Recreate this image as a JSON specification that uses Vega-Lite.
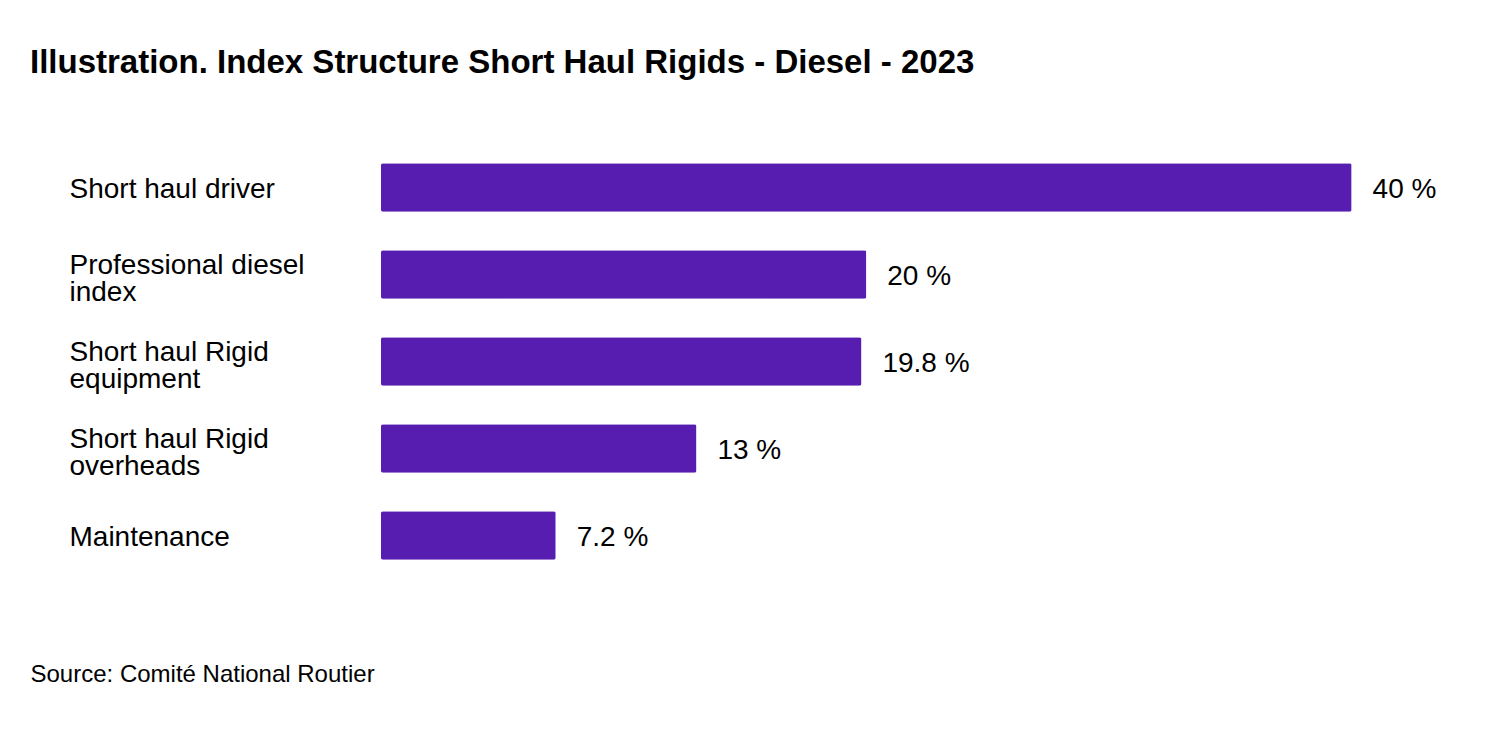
{
  "$schema": "https://vega.github.io/schema/vega-lite/v6.json",
  "background": "white",
  "autosize": "none",
  "padding": {"left": 381, "top": 144, "right": 134, "bottom": 176},
  "width": 990,
  "height": 435,
  "config": {
    "font": "Liberation Sans",
    "view": {"stroke": null}
  },
  "title": {
    "text": "Illustration. Index Structure Short Haul Rigids - Diesel - 2023",
    "anchor": "start",
    "frame": "group",
    "dx": -351,
    "offset": 64,
    "fontSize": 33,
    "fontWeight": "bold",
    "color": "#000000",
    "font": "Liberation Sans"
  },
  "data": {
    "values": [
      {"category": "Short haul driver", "value": 40, "label": "40 %"},
      {"category": "Professional diesel|index", "value": 20, "label": "20 %"},
      {"category": "Short haul Rigid|equipment", "value": 19.8, "label": "19.8 %"},
      {"category": "Short haul Rigid|overheads", "value": 13, "label": "13 %"},
      {"category": "Maintenance", "value": 7.2, "label": "7.2 %"}
    ]
  },
  "encoding": {
    "y": {
      "field": "category",
      "type": "nominal",
      "sort": null,
      "scale": {"paddingInner": 0.44, "paddingOuter": 0.22},
      "axis": {
        "title": null,
        "domain": false,
        "ticks": false,
        "labelAlign": "left",
        "labelPadding": 312,
        "labelFontSize": 28,
        "labelColor": "#000000",
        "labelLineHeight": 27,
        "labelExpr": "split(datum.value, '|')",
        "labelOffset": {
          "condition": {"test": "indexof(datum.value, '|') >= 0", "value": -9},
          "value": 2
        },
        "labelLimit": 0
      }
    },
    "x": {
      "field": "value",
      "type": "quantitative",
      "scale": {"domain": [0, 40.8], "nice": false},
      "axis": {
        "domain": false,
        "ticks": false,
        "labels": false,
        "grid": false,
        "title": "Source: Comité National Routier",
        "titleAnchor": "start",
        "titleAlign": "left",
        "titleX": -351,
        "titleY": 102,
        "titleBaseline": "alphabetic",
        "titleFontSize": 24,
        "titleFontWeight": "normal",
        "titleColor": "#000000"
      }
    }
  },
  "layer": [
    {
      "mark": {"type": "bar", "color": "#561db0", "cornerRadius": 2}
    },
    {
      "mark": {
        "type": "text",
        "align": "left",
        "baseline": "middle",
        "dx": 21,
        "dy": 2,
        "fontSize": 28,
        "fontWeight": 500,
        "color": "#000000"
      },
      "encoding": {"text": {"field": "label"}}
    }
  ]
}
